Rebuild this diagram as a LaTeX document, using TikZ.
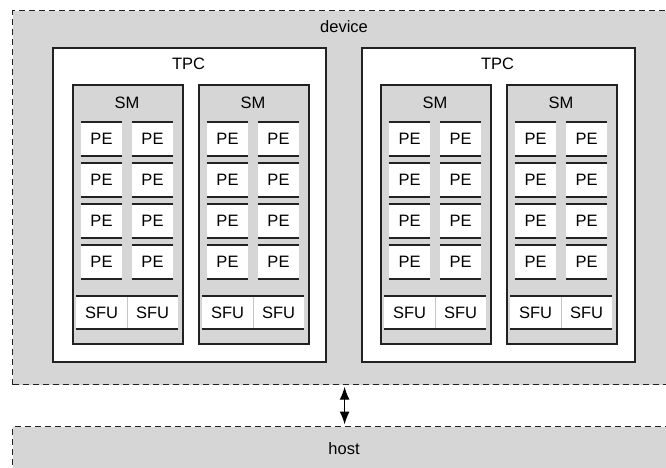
\documentclass[tikz,border=0pt]{standalone}
\usepackage{fontspec}
\setmainfont{Liberation Sans}
\usetikzlibrary{arrows.meta}
\definecolor{bg}{HTML}{D6D6D6}
\definecolor{ln}{HTML}{222222}
\begin{document}
\begin{tikzpicture}[x=1pt,y=-1pt,
  txt/.style={font=\fontsize{16.5}{19}\selectfont, inner sep=0},
  lbl/.style={txt, anchor=base},
  outer/.style={draw=ln, dash pattern=on 6pt off 4pt, fill=bg, line width=1.2pt, anchor=north west, inner sep=0},
  tpcbox/.style={draw=ln, fill=white, line width=1.6pt, minimum width=273, minimum height=314, anchor=north west, inner sep=0},
  smbox/.style={draw=ln, fill=bg, line width=1.6pt, minimum width=110, minimum height=259, anchor=north west, inner sep=0},
  hline/.style={draw=ln, line width=1.5pt},
  pebox/.style={txt, fill=white, minimum width=41, minimum height=34,
    append after command={(\tikzlastnode.north west) edge[hline] (\tikzlastnode.north east)
                          (\tikzlastnode.south west) edge[hline] (\tikzlastnode.south east)}},
  sfubox/.style={pebox, minimum width=51, minimum height=33},
  sep/.style={draw=gray!45, line width=0.8pt, shorten <=0.8pt, shorten >=0.8pt},
  arr/.style={{Latex[length=13pt,width=10pt]}-{Latex[length=13pt,width=10pt]}, line width=1.4pt, shorten <=1.5pt, shorten >=1.5pt}
]
\clip (0,0) rectangle (666,468);
\fill[white] (0,0) rectangle (666,468);
\node[outer, minimum width=664, minimum height=374] (device) at (12,10) {};
\node[lbl] (devlbl) at (344,32.5) {device};
\node[outer, minimum width=664, minimum height=80] (host) at (12,426) {};
\node[lbl] (hostlbl) at (344,454) {host};
\draw[arr] (device.south) -- (host.north);
\foreach \t/\tx in {1/52,2/361} {
  \node[tpcbox] (tpc\t) at (\tx,47) {};
  \node[lbl] (tpclbl\t) at (\tx+136.5,70) {TPC};
}
\foreach \i/\sx in {1/72,2/198,3/380,4/506} {
  \node[smbox] (sm\i) at (\sx,84) {};
  \node[lbl] (smlbl\i) at (\sx+55,109) {SM};
  \foreach \r in {0,...,3} {
    \foreach \c in {0,1} {
      \node[pebox] (pe\i\r\c) at (\sx+29.5+51*\c, 139+41*\r) {PE};
    }
  }
  \node[sfubox] (sfua\i) at (\sx+29.5, 312.5) {SFU};
  \node[sfubox] (sfub\i) at (\sx+80.5, 312.5) {SFU};
  \draw[sep] (sfua\i.north east) -- (sfua\i.south east);
}
\end{tikzpicture}
\end{document}
